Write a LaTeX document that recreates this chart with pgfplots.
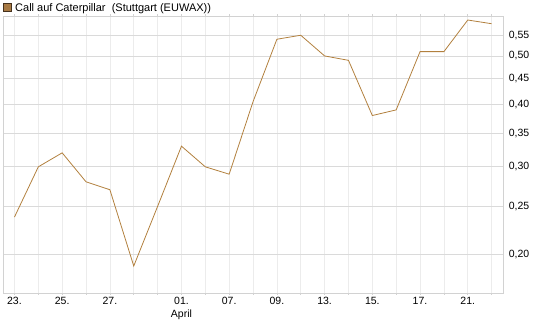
\documentclass[border=0pt]{standalone}
\usepackage{pgfplots}
\pgfplotsset{compat=1.18}
\usepackage{fontspec}
\setmainfont{Liberation Sans}
\definecolor{linebrown}{RGB}{178,128,62}
\definecolor{legfill}{RGB}{168,122,68}
\definecolor{legdraw}{RGB}{70,50,30}
\definecolor{hgrid}{RGB}{218,218,218}
\definecolor{vgrid}{RGB}{236,236,236}
\definecolor{border}{RGB}{210,210,210}
\begin{document}
\begin{tikzpicture}[x=1bp,y=1bp]
\path[use as bounding box] (0,0) rectangle (545,327);
\begin{axis}[
  at={(3bp,34.3bp)}, anchor=south west,
  scale only axis, width=500.3bp, height=276.7bp,
  ymode=log,
  xmin=-0.48, xmax=20.49,
  ymin=0.168, ymax=0.601,
  axis line style={draw=border},
  xtick={0,...,20},
  xticklabels={23.,,25.,,27.,,,{01.\\April},,07.,,09.,,13.,,15.,,17.,,21.,},
  xticklabel style={align=center, font=\fontsize{10.5bp}{12.5bp}\selectfont, text=black, inner sep=1bp, yshift=-1.5bp},
  xtick style={draw=border, line width=0.6bp},
  major tick length=2bp,
  tick align=outside,
  ytick={0.2,0.25,0.3,0.35,0.4,0.45,0.5,0.55},
  yticklabels={{0,20},{0,25},{0,30},{0,35},{0,40},{0,45},{0,50},{0,55}},
  yticklabel pos=right,
  yticklabel style={font=\fontsize{10.5bp}{12bp}\selectfont, text=black, anchor=west, xshift=0bp},
  ytick style={draw=none},
  grid=major,
  x grid style={draw=vgrid, line width=0.7bp},
  y grid style={draw=hgrid, line width=0.8bp},
  clip=false,
]
\addplot[linebrown, line width=0.8bp, mark=none] coordinates {
(0,0.238) (1,0.30) (2,0.32) (3,0.28) (4,0.27) (5,0.19) (6,0.25)
(7,0.33) (8,0.30) (9,0.29) (10,0.405) (11,0.54) (12,0.55) (13,0.50)
(14,0.49) (15,0.38) (16,0.39) (17,0.51) (18,0.51) (19,0.59) (20,0.58)
};
\end{axis}
\draw[legdraw, fill=legfill, line width=0.6bp] (3.5,315.5) rectangle (11.5,323.5);
\node[anchor=base west, inner sep=0pt, font=\fontsize{11bp}{13bp}\selectfont] at (15,315.3) {Call auf Caterpillar\ \ (Stuttgart (EUWAX))};
\end{tikzpicture}
\end{document}
